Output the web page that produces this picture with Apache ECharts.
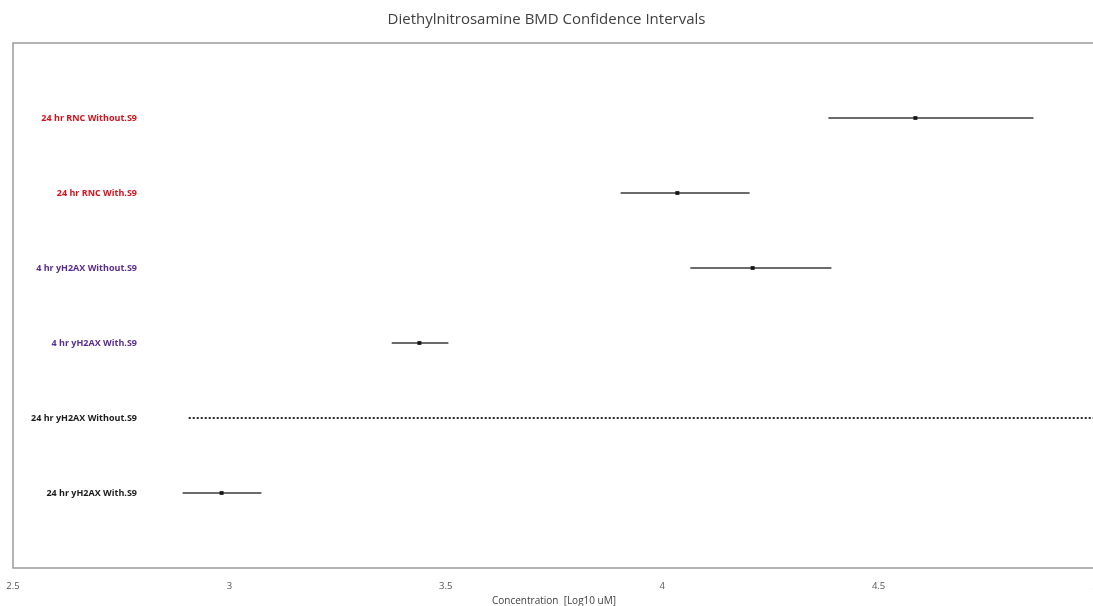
<!DOCTYPE html>
<html>
<head>
<meta charset="utf-8">
<title>Diethylnitrosamine BMD Confidence Intervals</title>
<script src="https://cdn.jsdelivr.net/npm/echarts@6/dist/echarts.min.js"></script>
<style>
  html, body { margin: 0; padding: 0; background: #fff; }
  #chart { width: 1093px; height: 606px; }
</style>
</head>
<body>
<div id="chart"></div>
<script>
// Endpoints, listed from bottom row to top row
const endpoints = [
  '24 hr yH2AX With.S9',
  '24 hr yH2AX Without.S9',
  '4 hr yH2AX With.S9',
  '4 hr yH2AX Without.S9',
  '24 hr RNC With.S9',
  '24 hr RNC Without.S9'
];
// Lower / upper confidence bounds and BMD (log10 uM); null BMD = unbounded interval
const lower = [2.892, 2.906, 3.375, 4.065, 3.904, 4.384];
const upper = [3.074, 5.02, 3.506, 4.391, 4.202, 4.858];
const bmd   = [2.982, null, 3.439, 4.209, 4.035, 4.585];
const xTicks = [2.5, 3, 3.5, 4, 4.5, 5];

const labelColors = { rnc: '#d3121c', h4: '#5b2c8f', h24: '#1a1a1a' };
function labelKey(name) {
  if (name.indexOf('RNC') >= 0) return 'rnc';
  if (name.indexOf('4 hr') === 0) return 'h4';
  return 'h24';
}
function richStyle(color) {
  return { fontFamily: 'Open Sans', fontSize: 9, fontWeight: 'bold', color: color };
}

const intervalData = endpoints.map((n, i) => [lower[i], upper[i], i + 1, bmd[i] === null ? 1 : 0]);
const bmdData = endpoints.map((n, i) => bmd[i] === null ? null : [bmd[i], i + 1]).filter(d => d);

const chart = echarts.init(document.getElementById('chart'), null, { renderer: 'canvas' });
chart.setOption({
  animation: false,
  title: {
    text: 'Diethylnitrosamine BMD Confidence Intervals',
    left: 'center',
    top: 7,
    textStyle: { fontFamily: 'Open Sans', fontSize: 15, fontWeight: 'normal', color: '#404040' }
  },
  grid: {
    left: 13, top: 43, width: 1082, height: 525,
    outerBoundsMode: 'none',
    containLabel: false,
    show: true, borderColor: '#9a9a9a', borderWidth: 1.5, backgroundColor: '#fff'
  },
  xAxis: {
    type: 'value',
    min: 2.5, max: 5, interval: 0.5,
    name: 'Concentration  [Log10 uM]',
    nameLocation: 'middle',
    nameGap: 28,
    nameTextStyle: { fontFamily: 'Open Sans', fontSize: 10, color: '#404040' },
    axisLine: { show: false },
    axisTick: { show: false },
    splitLine: { show: false },
    axisLabel: {
      margin: 13,
      showMinLabel: true,
      showMaxLabel: true,
      hideOverlap: false,
      fontFamily: 'Open Sans', fontSize: 9.5, color: '#555',
      formatter: v => xTicks.indexOf(v) >= 0 ? String(v) : ''
    }
  },
  yAxis: {
    type: 'value',
    min: 0, max: 7, interval: 1,
    axisLine: { show: false },
    axisTick: { show: false },
    splitLine: { show: false },
    axisLabel: {
      margin: -124,
      align: 'right',
      formatter: v => {
        const name = endpoints[v - 1];
        if (!name) return '';
        return '{' + labelKey(name) + '|' + name + '}';
      },
      rich: {
        rnc: richStyle(labelColors.rnc),
        h4:  richStyle(labelColors.h4),
        h24: richStyle(labelColors.h24)
      }
    }
  },
  series: [
    {
      type: 'custom',
      data: intervalData,
      clip: false,
      renderItem: (params, api) => {
        const a = api.coord([api.value(0), api.value(2)]);
        const b = api.coord([api.value(1), api.value(2)]);
        const open = api.value(3) === 1;
        return {
          type: 'line',
          shape: { x1: a[0], y1: a[1], x2: b[0], y2: b[1] },
          style: open
            ? { stroke: '#2a2a2a', lineWidth: 2, lineDash: [2, 2] }
            : { stroke: '#3a3a3a', lineWidth: 1.3 }
        };
      }
    },
    {
      type: 'scatter',
      data: bmdData,
      symbol: 'rect',
      symbolSize: 4,
      itemStyle: { color: '#000' },
      z: 5
    }
  ]
});
</script>
</body>
</html>
